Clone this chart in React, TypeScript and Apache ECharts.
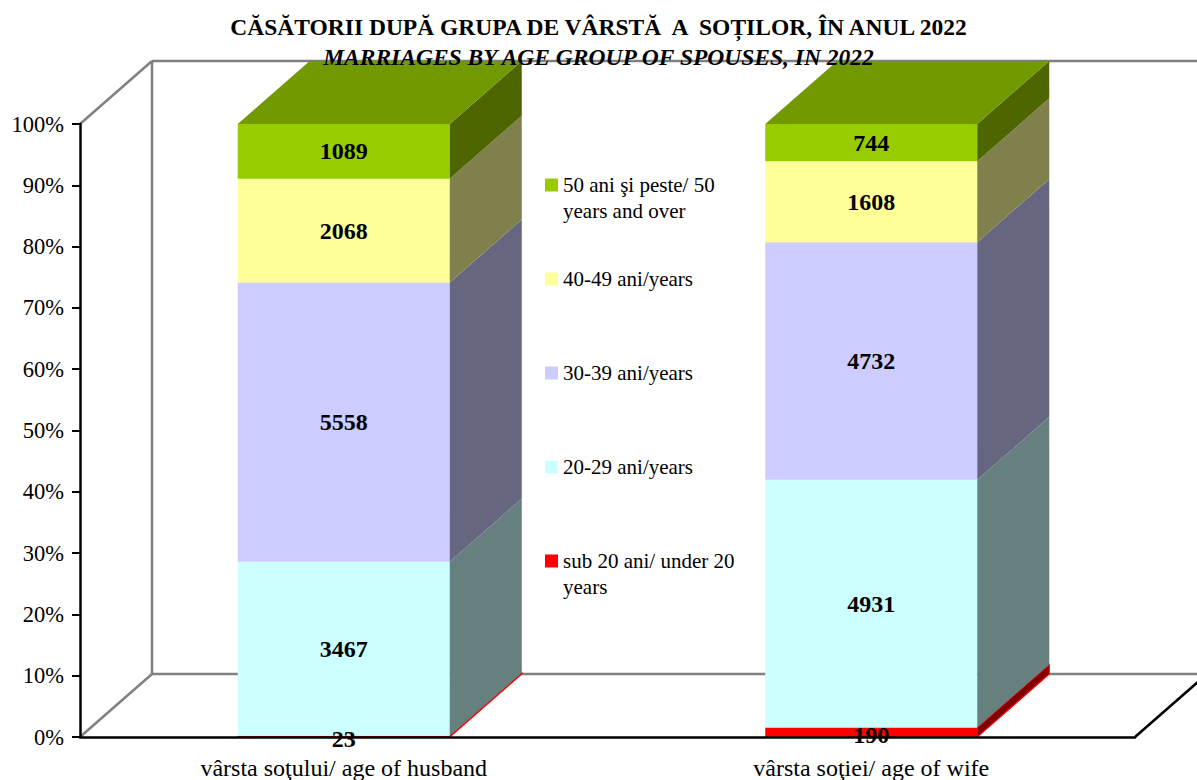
import React, { useEffect, useRef } from 'react';
import * as echarts from 'echarts';

const categories = ['vârsta soţului/ age of husband', 'vârsta soţiei/ age of wife'];
const seriesNames = [
  'sub 20 ani/ under 20\nyears',
  '20-29 ani/years',
  '30-39 ani/years',
  '40-49 ani/years',
  '50 ani şi peste/ 50\nyears and over',
];
const under20 = [23, 190];
const age20to29 = [3467, 4931];
const age30to39 = [5558, 4732];
const age40to49 = [2068, 1608];
const age50plus = [1089, 744];

const frontColors = ['#FF0000', '#CCFFFF', '#CCCCFF', '#FFFF99', '#99CC00'];
const sideColors = ['#800000', '#668080', '#666680', '#80804D', '#4D6600'];
const sideStroke = ['#FF0000', null, null, null, null];
const topColor = '#739900';

const FONT = "'Liberation Serif', 'Times New Roman', serif";
const DX = 72;
const DY = -63;
const BAR_RATIO = 0.402;

export default function App() {
  const ref = useRef<HTMLDivElement>(null);

  useEffect(() => {
    if (!ref.current) return;
    const chart = echarts.init(ref.current, null, { renderer: 'svg' });

    const groups = [under20, age20to29, age30to39, age40to49, age50plus];
    const totals = categories.map((_, i) => groups.reduce((s, g) => s + g[i], 0));
    const cum = categories.map(() => 0);

    const barSeries = groups.map((g, si) => {
      const data = categories.map((_, ci) => {
        const start = cum[ci];
        const end = start + (g[ci] / totals[ci]) * 100;
        cum[ci] = end;
        return [ci, start, end, g[ci]];
      });
      const isTop = si === groups.length - 1;
      return {
        type: 'custom',
        name: seriesNames[si],
        itemStyle: { color: frontColors[si] },
        encode: { x: 0, y: [1, 2] },
        data,
        z: 3,
        renderItem: (params: any, api: any) => {
          const cat = api.value(0);
          const start = api.value(1);
          const end = api.value(2);
          const count = api.value(3);
          const p0 = api.coord([cat, start]);
          const p1 = api.coord([cat, end]);
          const bw = api.size([1, 0])[0] * BAR_RATIO;
          const xL = p0[0] - bw / 2;
          const xR = p0[0] + bw / 2;
          const yB = p0[1];
          const yT = p1[1];
          const sideStyle: any = { fill: sideColors[si] };
          if (sideStroke[si]) {
            sideStyle.stroke = sideStroke[si];
            sideStyle.lineWidth = 1.2;
          }
          const children: any[] = [
            {
              type: 'rect',
              shape: { x: xL, y: yT, width: bw, height: yB - yT },
              style: { fill: frontColors[si] },
            },
            {
              type: 'polygon',
              shape: { points: [[xR, yT], [xR + DX, yT + DY], [xR + DX, yB + DY], [xR, yB]] },
              style: sideStyle,
            },
          ];
          if (isTop) {
            children.push({
              type: 'polygon',
              shape: { points: [[xL, yT], [xL + DX, yT + DY], [xR + DX, yT + DY], [xR, yT]] },
              style: { fill: topColor },
            });
          }
          const small = yB - yT < 15;
          children.push({
            type: 'text',
            x: p0[0],
            y: (yT + yB) / 2 + (small ? 3 : 0),
            z2: 100,
            style: {
              text: String(count),
              fill: '#000',
              font: `bold 24px ${FONT}`,
              align: 'center',
              verticalAlign: 'middle',
            },
          });
          return { type: 'group', children };
        },
      };
    });

    const wallSeries = {
      type: 'custom',
      name: 'walls',
      silent: true,
      z: 1,
      data: [[0, 0]],
      encode: { x: 0, y: 1 },
      renderItem: (params: any) => {
        const cs = params.coordSys;
        const x = cs.x, y = cs.y, w = cs.width, h = cs.height;
        const gray = { stroke: '#808080', lineWidth: 2.5 };
        const black = { stroke: '#000', lineWidth: 2.5 };
        const ln = (x1: number, y1: number, x2: number, y2: number, st: any) => ({
          type: 'line',
          shape: { x1, y1, x2, y2 },
          style: st,
        });
        return {
          type: 'group',
          children: [
            ln(x, y, x + DX, y + DY, gray),
            ln(x + DX, y + DY, x + w + DX, y + DY, gray),
            ln(x + DX, y + DY, x + DX, y + h + DY, gray),
            ln(x, y + h, x + DX, y + h + DY, gray),
            ln(x + DX, y + h + DY, x + w + DX, y + h + DY, gray),
            ln(x + w, y + h, x + w + DX, y + h + DY, black),
          ],
        };
      },
    };

    const L = 26;
    const legendData = seriesNames.slice().reverse();

    chart.setOption({
      animation: false,
      backgroundColor: '#fff',
      title: [
        {
          text: 'CĂSĂTORII DUPĂ GRUPA DE VÂRSTĂ  A  SOȚILOR, ÎN ANUL 2022',
          left: 'center',
          top: 15,
          padding: 0,
          textStyle: { fontFamily: FONT, fontSize: 23.5, fontWeight: 'bold', color: '#000' },
        },
        {
          text: 'MARRIAGES BY AGE GROUP OF SPOUSES, IN 2022',
          left: 'center',
          top: 45,
          padding: 0,
          textStyle: {
            fontFamily: FONT,
            fontSize: 23.5,
            fontWeight: 'bold',
            fontStyle: 'italic',
            color: '#000',
          },
        },
      ],
      legend: {
        orient: 'vertical',
        left: 545,
        top: 146,
        padding: 0,
        itemGap: 94 - 3 * L,
        itemWidth: 13,
        itemHeight: 13,
        icon: 'rect',
        selectedMode: false,
        formatter: (name: string) => (name.includes('\n') ? ' \n' + name : ' \n' + name + '\n '),
        textStyle: { fontFamily: FONT, fontSize: 21, color: '#000', lineHeight: L },
        data: legendData,
      },
      grid: { left: 80, right: 62, top: 124, bottom: 43, containLabel: false },
      xAxis: {
        type: 'category',
        data: categories,
        axisLine: { lineStyle: { color: '#000', width: 2.5 } },
        axisTick: { length: 9, lineStyle: { color: '#000', width: 2 } },
        axisLabel: { color: '#000', fontFamily: FONT, fontSize: 24, margin: 19 },
        z: 5,
      },
      yAxis: {
        type: 'value',
        min: 0,
        max: 100,
        interval: 10,
        axisLine: { show: true, lineStyle: { color: '#000', width: 2.5 } },
        axisTick: { show: true, length: 8, lineStyle: { color: '#000', width: 2 } },
        axisLabel: {
          color: '#000',
          fontFamily: FONT,
          fontSize: 22.5,
          margin: 16,
          formatter: '{value}%',
        },
        splitLine: { show: false },
        z: 5,
      },
      series: [wallSeries, ...barSeries],
    } as any);

    return () => chart.dispose();
  }, []);

  return (
    <div
      ref={ref}
      style={{ position: 'fixed', left: 0, top: 0, width: 1197, height: 780 }}
    />
  );
}
